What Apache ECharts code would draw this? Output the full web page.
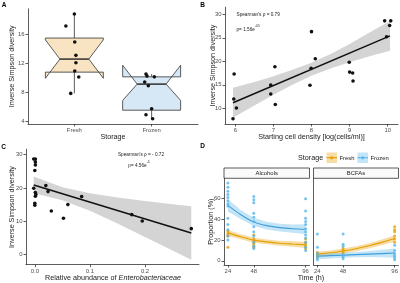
<!DOCTYPE html>
<html>
<head>
<meta charset="utf-8">
<script src="https://cdn.jsdelivr.net/npm/echarts@6/dist/echarts.min.js"></script>
<style>
  html, body { margin: 0; padding: 0; background: #fff; }
  #chart { width: 400px; height: 283px; }
</style>
</head>
<body>
<div id="chart"></div>
<script>
// ---- A: diversity by storage ----
const storage = ['Fresh', 'Frozen'];
const freshJitter = [1.0, 0.89, 1.005, 1.02, 1.02, 1.005, 1.057, 0.953];
const freshDiversity = [18.76, 17.1, 14.9, 13.06, 12.04, 10.9, 10.07, 7.82];
const frozenJitter = [1.927, 1.94, 2.035, 1.91, 1.957, 2.0, 1.927, 2.013];
const frozenDiversity = [10.48, 10.2, 10.1, 9.38, 8.87, 5.7, 4.87, 4.32];
// whisker low, Q1, notch low, median, notch high, Q3, whisker high
const freshBox = [7.82, 10.75, 9.9, 12.55, 15.2, 15.45, 18.76];
const frozenBox = [4.32, 5.5, 6.85, 9.1, 11.7, 10.1, 10.48];

// ---- B: starting cell density ----
const cellDensity = [5.94, 5.96, 5.97, 6.03, 7.04, 6.93, 6.93, 7.05, 8.0, 8.1, 7.99, 7.96, 8.99, 9.0, 9.08, 9.09, 9.92, 10.08, 10.05, 9.97];
const densityDiversity = [7.79, 11.98, 17.3, 10.06, 18.85, 14.96, 13.04, 10.8, 26.3, 20.55, 18.5, 14.9, 19.8, 17.7, 17.5, 15.8, 28.6, 28.6, 27.6, 25.2];
const fitBX = [5.94, 6.5, 7, 7.5, 8, 8.5, 9, 9.5, 10.06];
const fitBLine = [11.19, 13.1, 14.85, 16.6, 18.3, 20.0, 21.75, 23.5, 25.41];
const fitBLow = [8.0, 10.6, 12.9, 15.0, 16.9, 18.45, 19.8, 21.0, 22.24];
const fitBHigh = [14.36, 15.6, 16.8, 18.2, 19.7, 21.55, 23.7, 26.0, 28.58];

// ---- C: Enterobacteriaceae ----
const enteroAbund = [-0.002, 0.001, 0.001, 0.001, 0.0, -0.002, 0.001, 0.002, 0.001, 0.0, 0.0, 0.02, 0.024, 0.03, 0.052, 0.06, 0.085, 0.176, 0.195, 0.284];
const enteroDiversity = [28.65, 28.65, 27.8, 26.9, 25.2, 19.9, 18.6, 18.0, 17.5, 15.4, 14.8, 20.7, 18.9, 13.1, 10.9, 15.0, 17.4, 12.0, 10.1, 7.8];
const fitCX = [-0.002, 0.05, 0.1, 0.15, 0.2, 0.25, 0.284];
const fitCLine = [20.9, 18.28, 15.76, 13.24, 10.72, 8.2, 6.49];
const fitCLow = [18.4, 16.33, 13.13, 9.33, 5.33, 1.27, -1.51];
const fitCHigh = [23.4, 20.23, 18.39, 17.15, 16.11, 15.13, 14.49];

// ---- D: proportions over time ----
const hours = [24, 48, 96];
const alcFresh = [[29, 27, 25, 24, 13], [25, 21, 19, 17, 15, 13], [21, 18, 16, 14, 12]];
const alcFrozen = [[75, 71, 67, 64, 61, 58, 55, 53, 41, 35, 30, 24, 20], [62, 59, 56, 46, 42, 38, 33, 28, 24, 18, 14, 12], [60, 48, 41, 38, 35, 31, 28, 25, 22, 18, 13, 10]];
const bcfaFresh = [[8, 6, 4], [12, 10, 8], [33, 30, 28, 24, 21, 18]];
const bcfaFrozen = [[26, 13, 7, 5, 3, 1], [26, 16, 14, 6, 4, 2], [15, 10, 7, 5, 3, 1]];
const smoothX = [24, 36, 48, 60, 72, 84, 96];
const alcFrozenFit = [53.5, 44.5, 37.5, 34, 32, 31, 30.5];
const alcFrozenLow = [47.5, 40, 33.5, 30.3, 28.3, 27, 25.7];
const alcFrozenHigh = [59.5, 49, 41.5, 37.7, 35.7, 35, 35.3];
const alcFreshFit = [27, 23.2, 20, 18.3, 17, 16.2, 15.5];
const alcFreshLow = [24, 20.8, 17.5, 15.9, 14.6, 13.6, 12.5];
const alcFreshHigh = [30, 25.6, 22.5, 20.7, 19.4, 18.8, 18.5];
const bcfaFreshFit = [6.5, 7.8, 9.5, 11.7, 14.5, 17.8, 21.5];
const bcfaFreshLow = [4, 5.6, 7, 9.3, 12, 15, 18.5];
const bcfaFreshHigh = [9, 10, 12, 14.1, 17, 20.6, 24.5];
const bcfaFrozenFit = [4.5, 5, 5.5, 6, 6.5, 7, 7.5];
const bcfaFrozenLow = [1.5, 2.3, 3, 3.4, 3.6, 3.4, 3];
const bcfaFrozenHigh = [7.5, 7.7, 8, 8.6, 9.4, 10.6, 12];

const FONT = 'Liberation Sans, Arial, sans-serif';
const AXIS = '#333';
const TICK = '#4d4d4d';
const ORANGE = '#E69F00';
const BLUE = '#56B4E9';

const chart = echarts.init(document.getElementById('chart'));

function xAxisOf(grid, min, max, ticks, fmt, showLabel = true) {
  return {
    type: 'value', gridIndex: grid, min, max,
    axisLine: { onZero: false, lineStyle: { color: AXIS, width: 0.8 } },
    axisTick: { show: showLabel, length: 2.5, customValues: ticks, lineStyle: { color: AXIS, width: 0.8 } },
    axisLabel: { show: showLabel, customValues: ticks, formatter: fmt, fontSize: 5.9, color: TICK, margin: 3.5, fontFamily: FONT },
    splitLine: { show: false }
  };
}
const yAxisOf = xAxisOf;

function scatter(grid, xs, ys, color, size) {
  return {
    type: 'scatter', xAxisIndex: grid, yAxisIndex: grid, z: 5,
    symbolSize: size, itemStyle: { color, opacity: 1 },
    data: xs.map((x, i) => [x, ys[i]]), silent: true
  };
}

function groupScatter(grid, groups, color) {
  const data = [];
  hours.forEach((h, i) => groups[i].forEach(v => data.push([h, v])));
  return {
    type: 'scatter', xAxisIndex: grid, yAxisIndex: grid, z: 4,
    symbolSize: 3, itemStyle: { color }, data, silent: true
  };
}

function ribbon(grid, xs, lo, hi, fill, opacity) {
  return {
    type: 'custom', xAxisIndex: grid, yAxisIndex: grid, z: 2, silent: true,
    data: [[xs[0], lo[0]]],
    renderItem: (params, api) => {
      const pts = xs.map((x, i) => api.coord([x, hi[i]]));
      for (let i = xs.length - 1; i >= 0; i--) pts.push(api.coord([xs[i], lo[i]]));
      return { type: 'polygon', shape: { points: pts }, style: { fill, opacity } };
    }
  };
}

function fitLine(grid, xs, ys, color, width) {
  return {
    type: 'line', xAxisIndex: grid, yAxisIndex: grid, z: 3, silent: true,
    showSymbol: false, smooth: 0.3, lineStyle: { color, width },
    data: xs.map((x, i) => [x, ys[i]])
  };
}

function notchBox(pos, s, fill) {
  return {
    type: 'custom', xAxisIndex: 0, yAxisIndex: 0, z: 2, silent: true,
    data: [[pos, s[3]]],
    renderItem: (params, api) => {
      const hw = 0.375, nw = hw * 0.5;
      const P = (x, y) => api.coord([x, y]);
      const [lo, q1, nLo, med, nHi, q3, hi] = s;
      const stroke = { stroke: '#333', lineWidth: 0.8 };
      return {
        type: 'group',
        children: [
          { type: 'line', shape: { x1: P(pos, q3)[0], y1: P(pos, q3)[1], x2: P(pos, hi)[0], y2: P(pos, hi)[1] }, style: stroke },
          { type: 'line', shape: { x1: P(pos, q1)[0], y1: P(pos, q1)[1], x2: P(pos, lo)[0], y2: P(pos, lo)[1] }, style: stroke },
          {
            type: 'polygon',
            shape: { points: [P(pos - hw, q3), P(pos - hw, nHi), P(pos - nw, med), P(pos - hw, nLo), P(pos - hw, q1),
                              P(pos + hw, q1), P(pos + hw, nLo), P(pos + nw, med), P(pos + hw, nHi), P(pos + hw, q3)] },
            style: { fill, stroke: '#333', lineWidth: 0.8 }
          },
          { type: 'line', shape: { x1: P(pos - nw, med)[0], y1: P(pos - nw, med)[1], x2: P(pos + nw, med)[0], y2: P(pos + nw, med)[1] },
            style: { stroke: '#222', lineWidth: 1.4 } }
        ]
      };
    }
  };
}

function label(text, x, y, size, opts = {}) {
  return {
    type: 'text', x, y, rotation: opts.rotate ? Math.PI / 2 : 0, z: 10,
    style: {
      text, fontSize: size, fontFamily: FONT, fill: opts.color || '#1a1a1a',
      fontWeight: opts.bold ? 'bold' : 'normal',
      align: opts.align || 'center', verticalAlign: 'middle', rich: opts.rich
    }
  };
}

const supRich = {
  n: { fontSize: 4.7, fontFamily: FONT, fill: '#1a1a1a', lineHeight: 8, verticalAlign: 'bottom' },
  s: { fontSize: 3.4, fontFamily: FONT, fill: '#1a1a1a', lineHeight: 8, verticalAlign: 'top' }
};

function legendKey(x, color, text) {
  return [
    { type: 'rect', shape: { x, y: 152.5, width: 10.5, height: 10.5 }, style: { fill: color, opacity: 0.35 } },
    { type: 'line', shape: { x1: x, y1: 157.7, x2: x + 10.5, y2: 157.7 }, style: { stroke: color, lineWidth: 1.1 } },
    { type: 'circle', shape: { cx: x + 5.25, cy: 157.7, r: 1.5 }, style: { fill: color } },
    label(text, x + 13, 157.9, 5.9, { align: 'left', color: '#1a1a1a' })
  ];
}

function strip(x, w, text) {
  return [
    { type: 'rect', shape: { x, y: 168, width: w, height: 10.3 }, style: { fill: '#fafafa', stroke: '#333', lineWidth: 0.8 } },
    label(text, x + w / 2, 173.2, 5.9)
  ];
}

const option = {
  animation: false,
  backgroundColor: '#fff',
  grid: [
    { left: 28, top: 8.8, width: 170, height: 115.2, outerBoundsMode: 'none' },
    { left: 225, top: 7.2, width: 173, height: 116.8, outerBoundsMode: 'none' },
    { left: 26, top: 149.2, width: 173, height: 115.5, outerBoundsMode: 'none' },
    { left: 224, top: 178.3, width: 85.5, height: 86.7, outerBoundsMode: 'none' },
    { left: 313.5, top: 178.3, width: 85, height: 86.7, outerBoundsMode: 'none' }
  ],
  xAxis: [
    xAxisOf(0, 0.4, 2.6, [1, 2], v => storage[Math.round(v) - 1]),
    xAxisOf(1, 5.73, 10.27, [6, 7, 8, 9, 10]),
    xAxisOf(2, -0.016, 0.298, [0, 0.1, 0.2], v => v.toFixed(1)),
    xAxisOf(3, 20.4, 99.6, hours),
    xAxisOf(4, 20.4, 99.6, hours)
  ],
  yAxis: [
    yAxisOf(0, 3.6, 19.48, [4, 8, 12, 16]),
    yAxisOf(1, 6.66, 31.5, [10, 15, 20, 25, 30]),
    yAxisOf(2, -3.0, 31.6, [0, 10, 20, 30]),
    yAxisOf(3, -4, 79.6, [0, 20, 40, 60]),
    yAxisOf(4, -4, 79.6, [0, 20, 40, 60], undefined, false)
  ],
  series: [
    notchBox(1, freshBox, '#F8E3C3'),
    notchBox(2, frozenBox, '#D6E8F6'),
    scatter(0, freshJitter, freshDiversity, '#111', 3.6),
    scatter(0, frozenJitter, frozenDiversity, '#111', 3.6),

    ribbon(1, fitBX, fitBLow, fitBHigh, '#d4d4d4', 1),
    fitLine(1, [fitBX[0], fitBX[fitBX.length - 1]], [fitBLine[0], fitBLine[fitBLine.length - 1]], '#111', 1.5),
    scatter(1, cellDensity, densityDiversity, '#111', 3.6),

    ribbon(2, fitCX, fitCLow, fitCHigh, '#d4d4d4', 1),
    fitLine(2, [fitCX[0], fitCX[fitCX.length - 1]], [fitCLine[0], fitCLine[fitCLine.length - 1]], '#111', 1.5),
    scatter(2, enteroAbund, enteroDiversity, '#111', 3.6),

    ribbon(3, smoothX, alcFreshLow, alcFreshHigh, ORANGE, 0.35),
    ribbon(3, smoothX, alcFrozenLow, alcFrozenHigh, BLUE, 0.35),
    groupScatter(3, alcFresh, ORANGE),
    groupScatter(3, alcFrozen, BLUE),
    fitLine(3, smoothX, alcFreshFit, ORANGE, 1.1),
    fitLine(3, smoothX, alcFrozenFit, '#3E9FDB', 1.1),

    ribbon(4, smoothX, bcfaFreshLow, bcfaFreshHigh, ORANGE, 0.35),
    ribbon(4, smoothX, bcfaFrozenLow, bcfaFrozenHigh, BLUE, 0.35),
    groupScatter(4, bcfaFresh, ORANGE),
    groupScatter(4, bcfaFrozen, BLUE),
    fitLine(4, smoothX, bcfaFreshFit, ORANGE, 1.1),
    fitLine(4, smoothX, bcfaFrozenFit, '#3E9FDB', 1.1)
  ],
  graphic: [
    label('A', 4, 5.5, 6.5, { bold: true, color: '#000' }),
    label('B', 202.5, 5.5, 6.5, { bold: true, color: '#000' }),
    label('C', 3.5, 147.5, 6.5, { bold: true, color: '#000' }),
    label('D', 202.5, 146, 6.5, { bold: true, color: '#000' }),

    label('Inverse Simpson diversity', 12, 66.4, 7.2, { rotate: true }),
    label('Storage', 113, 137.5, 7.2),
    label('Inverse Simpson diversity', 213, 65.6, 7.2, { rotate: true }),
    label('Starting cell density [log(cells/ml)]', 311.5, 137.5, 7.2),
    label('Inverse Simpson diversity', 12, 207, 7.2, { rotate: true }),
    label('', 113, 277.7, 7.2, {
      rich: {
        a: { fontSize: 7.2, fontFamily: FONT, fill: '#1a1a1a' },
        i: { fontSize: 7.2, fontFamily: FONT, fill: '#1a1a1a', fontStyle: 'italic' }
      }
    }),
    label('Proportion (%)', 211, 221.7, 7.2, { rotate: true }),
    label('Time (h)', 311, 277.7, 7.2),

    label("Spearman's \u03c1 = 0.79", 236.5, 14.5, 4.7, { align: 'left' }),
    label('{n|p= 1.56e}{s|-05}', 236.5, 28.5, 4.7, { align: 'left', rich: supRich }),
    label("Spearman's \u03c1 = - 0.72", 141, 154.3, 4.7),
    label('{n|p= 4.56e}{s|-5}', 139, 164.2, 4.7, { rich: supRich }),

    ...strip(224, 85.5, 'Alcohols'),
    ...strip(313.5, 85, 'BCFAs'),

    label('Storage', 298, 157.9, 7.2, { align: 'left' }),
    ...legendKey(326.5, ORANGE, 'Fresh'),
    ...legendKey(357.5, BLUE, 'Frozen')
  ]
};

// italic family name in panel C axis title
option.graphic.find(g => g.style && g.style.rich && g.style.rich.i).style.text =
  '{a|Relative abundance of }{i|Enterobacteriaceae}';

chart.setOption(option);
</script>
</body>
</html>
